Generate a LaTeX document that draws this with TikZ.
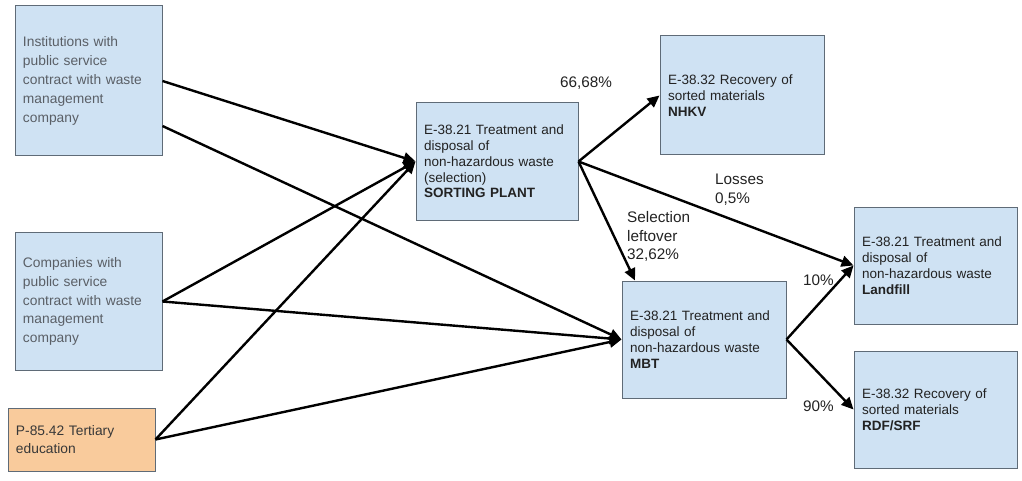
\documentclass[tikz,border=0pt]{standalone}
\usepackage{fontspec}
\setmainfont{Liberation Sans}
\usetikzlibrary{arrows.meta}
\definecolor{boxblue}{HTML}{CFE2F3}
\definecolor{boxorange}{HTML}{F9CB9C}
\definecolor{edgegray}{HTML}{5F6B77}
\definecolor{srcgray}{HTML}{5A5F66}
\definecolor{darktext}{HTML}{222222}
\tikzset{
  box/.style={draw=edgegray, line width=1pt, fill=boxblue, rectangle,
    align=left, inner xsep=8pt, inner ysep=0pt, text=darktext,
    font=\fontsize{13.5}{15.8}\selectfont},
  srcbox/.style={box, text=srcgray, font=\fontsize{13.8}{18.8}\selectfont},
  orangebox/.style={box, fill=boxorange, text=darktext!90, font=\fontsize{13.8}{18.3}\selectfont},
  flow/.style={line width=2.4pt, draw=black, -{Triangle[length=12pt,width=11pt]}},
  flowlabel/.style={anchor=west, inner sep=0pt, align=left, text=darktext,
    font=\fontsize{15.3}{18.5}\selectfont},
}
\begin{document}
\begin{tikzpicture}[x=1pt,y=-1pt]
\useasboundingbox (0,0) rectangle (1022,481);

% sources
\node[srcbox, minimum width=147pt, minimum height=150pt, text width=131pt] (inst) at (88.5,81)
  {Institutions with\\public service\\contract with waste\\management\\company};
\node[srcbox, minimum width=147pt, minimum height=138pt, text width=131pt] (comp) at (88.5,301.5)
  {Companies with\\public service\\contract with waste\\management\\company};
\node[orangebox, minimum width=147pt, minimum height=63pt, text width=131pt] (tert) at (81.5,439.5)
  {P-85.42 Tertiary\\education};

% processing and destinations
\node[box, minimum width=162pt, minimum height=117pt, text width=146pt] (sort) at (497,161.5)
  {E-38.21 Treatment and\\disposal of\\non-hazardous waste\\(selection)\\\textbf{SORTING PLANT}};
\node[box, minimum width=164pt, minimum height=119pt, text width=148pt] (nhkv) at (742,95.5)
  {E-38.32 Recovery of\\sorted materials\\\textbf{NHKV}};
\node[box, minimum width=164pt, minimum height=117pt, text width=148pt] (mbt) at (704,339.5)
  {E-38.21 Treatment and\\disposal of\\non-hazardous waste\\\textbf{MBT}};
\node[box, minimum width=163pt, minimum height=117pt, text width=147pt] (land) at (935.5,265.5)
  {E-38.21 Treatment and\\disposal of\\non-hazardous waste\\\textbf{Landfill}};
\node[box, minimum width=163pt, minimum height=117pt, text width=147pt] (rdf) at (935.5,409.5)
  {E-38.32 Recovery of\\sorted materials\\\textbf{RDF/SRF}};

% flow labels
\node[flowlabel] (p1) at (560,83) {66,68\%};
\node[flowlabel] (p2) at (715,189.5) {Losses\\0,5\%};
\node[flowlabel] (p3) at (627,236.5) {Selection\\leftover\\32,62\%};
\node[flowlabel] (p4) at (803,280) {10\%};
\node[flowlabel] (p5) at (803,406) {90\%};

% flows into the sorting plant and MBT
\draw[flow] (inst.east) -- (sort.west);
\draw[flow] ([yshift=-45pt]inst.east) -- (mbt.west);
\draw[flow] (comp.east) -- (sort.west);
\draw[flow] (comp.east) -- (mbt.west);
\draw[flow] (tert.east) -- (sort.west);
\draw[flow] (tert.east) -- (mbt.west);

% flows out of the sorting plant
\draw[flow] (sort.east) -- (nhkv.west);
\draw[flow] (sort.east) -- (land.west);
\draw[flow] (sort.east) -- ([xshift=-69pt]mbt.north);

% flows out of MBT
\draw[flow] (mbt.east) -- (land.west);
\draw[flow] (mbt.east) -- (rdf.west);
\end{tikzpicture}
\end{document}
